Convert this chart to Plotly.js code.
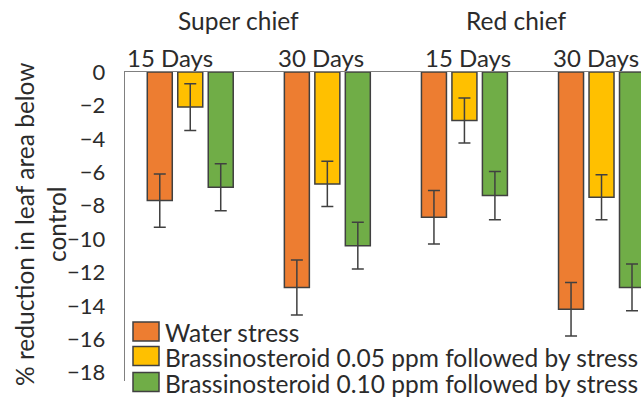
<!DOCTYPE html>
<html>
<head>
<meta charset="utf-8">
<script src="https://cdn.plot.ly/plotly-3.0.1.min.js"></script>
<style>
  html, body { margin: 0; padding: 0; background: #ffffff; }
  #chart { width: 641px; height: 400px; }
</style>
</head>
<body>
<div id="chart"></div>
<script>
// Varieties and sampling times (top axis)
const varieties = ["Super chief", "Red chief"];
const dayLabels = ["15 Days", "30 Days", "15 Days", "30 Days"];

// Treatments
const seriesNames = [
  "Water stress",
  "Brassinosteroid 0.05 ppm followed by stress",
  "Brassinosteroid 0.10 ppm followed by stress"
];

// % reduction in leaf area below control, per time point
const waterStress = [-7.7, -12.9, -8.7, -14.2];
const br005 = [-2.1, -6.7, -2.9, -7.5];
const br010 = [-6.9, -10.4, -7.4, -12.9];

// Error bar half-lengths
const errWater = [1.6, 1.65, 1.6, 1.6];
const errBr005 = [1.4, 1.35, 1.35, 1.35];
const errBr010 = [1.4, 1.4, 1.45, 1.4];

// Y axis ticks
const yTicks = [0, -2, -4, -6, -8, -10, -12, -14, -16, -18];
const yTitle = "% reduction in leaf area below<br>control";

const colors = ["#ED7D31", "#FFC000", "#70AD47"];
const edge = "#404040";
const textColor = "#2b2b2b";
const FONT = "Lato, 'Open Sans', sans-serif";
const TEXT_SIZE = 24.5;
const DAY_SIZE = 24;
const NUM_SIZE = 22;

const W = 641, H = 400;
const M = { l: 125, r: 0, t: 72, b: 19 };
const plotW = W - M.l - M.r, plotH = H - M.t - M.b;
const px2x = px => (px - M.l) / plotW;
const px2y = py => (H - M.b - py) / plotH;

const xIdx = dayLabels.map((_, i) => i);
const values = [waterStress, br005, br010];
const errs = [errWater, errBr005, errBr010];

const traces = values.map((v, k) => ({
  type: "bar",
  name: seriesNames[k],
  x: xIdx,
  y: v,
  marker: { color: colors[k], line: { color: edge, width: 1.5 } },
  error_y: { type: "data", array: errs[k], visible: true, color: edge, thickness: 1.5, width: 6 },
  showlegend: false,
  hoverinfo: "skip"
}));

// Legend drawn as boxes + labels in the lower-left of the plot
const legendRows = [331.5, 356, 382];
const shapes = [];
const annotations = [];
seriesNames.forEach((name, k) => {
  const cy = legendRows[k];
  shapes.push({
    type: "rect", xref: "paper", yref: "paper",
    x0: px2x(133), x1: px2x(159), y0: px2y(cy + 9.5), y1: px2y(cy - 9.5),
    fillcolor: colors[k], line: { color: edge, width: 1.5 }
  });
  annotations.push({
    xref: "paper", yref: "paper", x: px2x(163), y: px2y(cy + 1),
    xanchor: "left", yanchor: "middle", showarrow: false,
    text: name, font: { family: FONT, size: TEXT_SIZE, color: textColor }
  });
});

// Day labels along the top axis line, nudged to sit over their bar groups
const dayShift = [-20, -6, 4, -6];
dayLabels.forEach((d, i) => {
  annotations.push({
    xref: "x", yref: "paper", x: xIdx[i], y: px2y(57),
    xshift: dayShift[i],
    xanchor: "center", yanchor: "middle", showarrow: false,
    text: d, font: { family: FONT, size: DAY_SIZE, color: textColor }
  });
});

// Variety headings above the day labels
const varietyPos = [0.5, 2.5];
const varietyShift = [-20, -16];
varieties.forEach((v, i) => {
  annotations.push({
    xref: "x", yref: "paper", x: varietyPos[i], y: px2y(20),
    xshift: varietyShift[i],
    xanchor: "center", yanchor: "middle", showarrow: false,
    text: v, font: { family: FONT, size: TEXT_SIZE, color: textColor }
  });
});

// Vertical axis title (two lines)
annotations.push({
  xref: "paper", yref: "paper", x: px2x(40), y: px2y(224),
  xanchor: "center", yanchor: "middle", showarrow: false,
  textangle: -90,
  text: yTitle, font: { family: FONT, size: TEXT_SIZE, color: textColor }
});

const layout = {
  width: W, height: H,
  margin: M,
  paper_bgcolor: "#ffffff", plot_bgcolor: "#ffffff",
  font: { family: FONT, size: TEXT_SIZE, color: textColor },
  barmode: "group",
  bargap: 0.333,
  bargroupgap: 0.18,
  xaxis: {
    side: "top",
    range: [-0.476, 3.288],
    tickvals: xIdx,
    showticklabels: false,
    showline: true, linecolor: "#808080", linewidth: 1.3,
    showgrid: false, zeroline: false, ticks: "",
    fixedrange: true
  },
  yaxis: {
    range: [-18.5, 0],
    tickvals: yTicks,
    showline: true, linecolor: "#808080", linewidth: 1.3,
    showgrid: false, zeroline: false, ticks: "",
    ticklabelstandoff: 14,
    tickfont: { family: FONT, size: NUM_SIZE, color: textColor },
    fixedrange: true
  },
  shapes: shapes,
  annotations: annotations
};

Plotly.newPlot("chart", traces, layout, { displayModeBar: false, staticPlot: true });
</script>
</body>
</html>
